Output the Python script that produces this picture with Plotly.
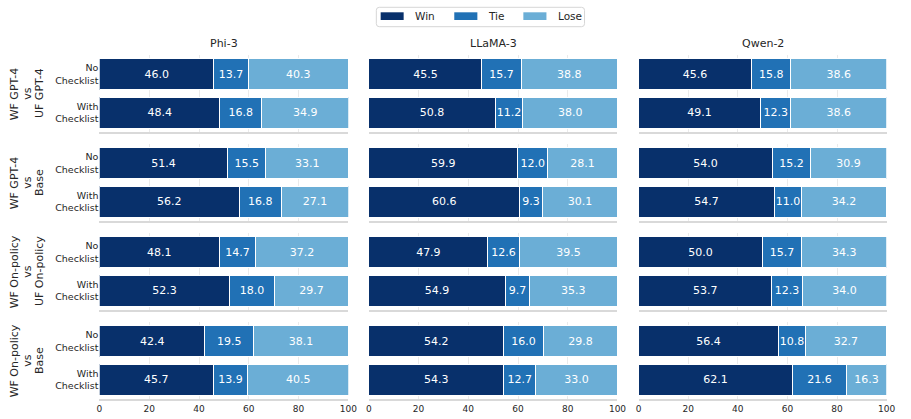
import plotly.graph_objects as go

models = ["Phi-3", "LLaMA-3", "Qwen-2"]
comparisons = [
    ["WF GPT-4", "vs", "UF GPT-4"],
    ["WF GPT-4", "vs", "Base"],
    ["WF On-policy", "vs", "UF On-policy"],
    ["WF On-policy", "vs", "Base"],
]
conditions = ["No<br>Checklist", "With<br>Checklist"]
outcomes = ["Win", "Tie", "Lose"]

# values[model][comparison] = [No Checklist, With Checklist]
win_phi3 = [[46.0, 48.4], [51.4, 56.2], [48.1, 52.3], [42.4, 45.7]]
tie_phi3 = [[13.7, 16.8], [15.5, 16.8], [14.7, 18.0], [19.5, 13.9]]
lose_phi3 = [[40.3, 34.9], [33.1, 27.1], [37.2, 29.7], [38.1, 40.5]]

win_llama3 = [[45.5, 50.8], [59.9, 60.6], [47.9, 54.9], [54.2, 54.3]]
tie_llama3 = [[15.7, 11.2], [12.0, 9.3], [12.6, 9.7], [16.0, 12.7]]
lose_llama3 = [[38.8, 38.0], [28.1, 30.1], [39.5, 35.3], [29.8, 33.0]]

win_qwen2 = [[45.6, 49.1], [54.0, 54.7], [50.0, 53.7], [56.4, 62.1]]
tie_qwen2 = [[15.8, 12.3], [15.2, 11.0], [15.7, 12.3], [10.8, 21.6]]
lose_qwen2 = [[38.6, 38.6], [30.9, 34.2], [34.3, 34.0], [32.7, 16.3]]

data = {
    "Phi-3": [win_phi3, tie_phi3, lose_phi3],
    "LLaMA-3": [win_llama3, tie_llama3, lose_llama3],
    "Qwen-2": [win_qwen2, tie_qwen2, lose_qwen2],
}
colors = ["#08306b", "#2171b5", "#6baed6"]

W, H = 911, 419
col_px = [(97.7, 350.0), (370.7, 622.7), (644.0, 895.5)]
row_px = [(55, 132), (144, 221), (233, 310), (322, 399)]
FONT = "DejaVu Sans"
TXT = "#262626"

fig = go.Figure()
layout = dict(
    width=W, height=H,
    margin=dict(l=0, r=0, t=0, b=0),
    paper_bgcolor="white", plot_bgcolor="white",
    barmode="stack", bargap=0.2,
    font=dict(family=FONT, color=TXT, size=10),
    showlegend=False,
)
annotations = []
shapes = []

idx = 0
for r, comp in enumerate(comparisons):
    for c, model in enumerate(models):
        idx += 1
        sfx = "" if idx == 1 else str(idx)
        xa, ya = "x" + sfx, "y" + sfx
        for k, name in enumerate(outcomes):
            vals = data[model][k][r]
            fig.add_trace(go.Bar(
                x=vals, y=[0, 1], orientation="h", name=name,
                xaxis=xa, yaxis=ya,
                marker=dict(color=colors[k], line=dict(color="white", width=1)),
                text=[f"{v:.1f}" for v in vals],
                textposition="inside", insidetextanchor="middle",
                constraintext="none", textangle=0,
                textfont=dict(color="white", size=11, family=FONT),
                showlegend=False, hoverinfo="skip",
            ))
        x0, x1 = col_px[c]
        y0, y1 = row_px[r]
        layout["xaxis" + sfx] = dict(
            domain=[x0 / W, x1 / W], anchor=ya, range=[0, 100],
            tickvals=[0, 20, 40, 60, 80, 100],
            showticklabels=(r == 3), ticks="",
            tickfont=dict(size=9, family=FONT, color=TXT),
            showgrid=True, gridcolor="#ebebeb", gridwidth=1,
            zeroline=False, showline=True, linecolor="#d9d9d9", linewidth=2,
            fixedrange=True,
        )
        layout["yaxis" + sfx] = dict(
            domain=[1 - y1 / H, 1 - y0 / H], anchor=xa, range=[1.5, -0.5],
            tickvals=[0, 1], ticktext=conditions,
            showticklabels=(c == 0), ticks="",
            tickfont=dict(size=9.5, family=FONT, color=TXT),
            showgrid=False, zeroline=False, showline=False, fixedrange=True,
        )
        if r == 0:
            annotations.append(dict(
                text=model, x=(x0 + x1) / 2 / W, y=1 - 44 / H, xref="paper", yref="paper",
                xanchor="center", yanchor="middle", showarrow=False,
                font=dict(size=11, family=FONT, color=TXT),
            ))
    y0, y1 = row_px[r]
    for j, line in enumerate(comp):
        annotations.append(dict(
            text=line, x=(12 + 12.5 * j) / W, y=1 - (y0 + y1) / 2 / H,
            xref="paper", yref="paper",
            xanchor="center", yanchor="middle", showarrow=False, textangle=-90,
            font=dict(size=11, family=FONT, color=TXT),
        ))

# legend (drawn manually to match the wide patch style)
bx0, bx1, by0, by1, rad = 378.3, 589.3, 7.3, 26.7, 3
path = (f"M {bx0+rad},{by0} L {bx1-rad},{by0} Q {bx1},{by0} {bx1},{by0+rad} "
        f"L {bx1},{by1-rad} Q {bx1},{by1} {bx1-rad},{by1} L {bx0+rad},{by1} "
        f"Q {bx0},{by1} {bx0},{by1-rad} L {bx0},{by0+rad} Q {bx0},{by0} {bx0+rad},{by0} Z")
# convert pixel path to paper coords is not possible with path; use pixel-based layer via xref paper + sizing
def px_path(p):
    out = []
    for tok in p.split():
        if "," in tok:
            a, b = tok.split(",")
            out.append(f"{float(a)/W:.6f},{1-float(b)/H:.6f}")
        else:
            out.append(tok)
    return " ".join(out)

shapes.append(dict(type="path", xref="paper", yref="paper", path=px_path(path),
                   line=dict(color="#d6d6d6", width=1), fillcolor="white", layer="above"))
leg_sym = [(382.7, 406.0), (457.3, 480.7), (527.3, 550.7)]
leg_txt = [415.0, 489.0, 560.0]
for k, name in enumerate(outcomes):
    sx0, sx1 = leg_sym[k]
    shapes.append(dict(type="rect", xref="paper", yref="paper",
                       x0=sx0 / W, x1=sx1 / W, y0=1 - 20 / H, y1=1 - 12.3 / H,
                       fillcolor=colors[k], line=dict(width=0), layer="above"))
    annotations.append(dict(
        text=name, x=leg_txt[k] / W, y=1 - 16.5 / H, xref="paper", yref="paper",
        xanchor="left", yanchor="middle", showarrow=False,
        font=dict(size=10.5, family=FONT, color=TXT),
    ))

layout["annotations"] = annotations
layout["shapes"] = shapes
fig.update_layout(**layout)
fig.write_html("out.html")
